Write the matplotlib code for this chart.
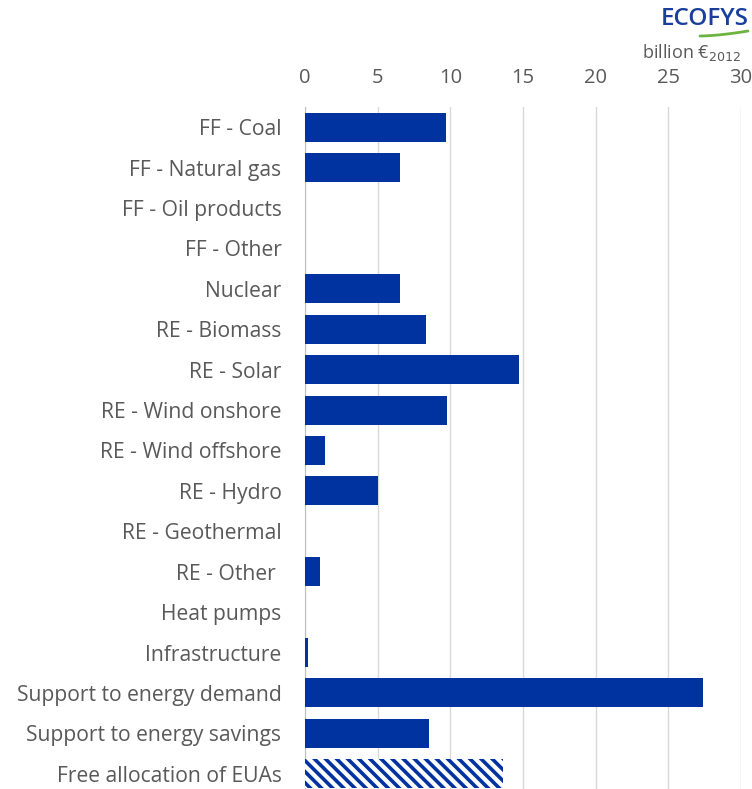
import matplotlib
matplotlib.use("Agg")
import matplotlib.pyplot as plt
import numpy as np

categories = ["FF - Coal", "FF - Natural gas", "FF - Oil products", "FF - Other", "Nuclear",
              "RE - Biomass", "RE - Solar", "RE - Wind onshore", "RE - Wind offshore", "RE - Hydro",
              "RE - Geothermal", "RE - Other ", "Heat pumps", "Infrastructure",
              "Support to energy demand", "Support to energy savings", "Free allocation of EUAs"]
values = [9.7, 6.55, 0, 0, 6.55, 8.3, 14.7, 9.8, 1.4, 5.0, 0, 1.0, 0, 0.2, 27.4, 8.5, 13.65]
hatched = [False]*16 + [True]
xticks = [0, 5, 10, 15, 20, 25, 30]

plt.rcParams['font.family'] = ['Open Sans', 'DejaVu Sans']
plt.rcParams['hatch.linewidth'] = 2.6
plt.rcParams['hatch.color'] = '#0033a0'
blue = '#0033a0'
gray = '#595959'

fig = plt.figure(figsize=(7.52, 7.89), dpi=100)
ax = fig.add_axes([0.4056, -0.0063, 0.5798, 0.8707])
y = np.arange(len(categories))
for i, (v, h) in enumerate(zip(values, hatched)):
    if h:
        ax.barh(i, v, height=0.72, color='white', edgecolor=blue, hatch='\\\\\\', linewidth=0, zorder=3)
    else:
        ax.barh(i, v, height=0.72, color=blue, zorder=3)
ax.set_ylim(len(categories) - 0.5, -0.5)
ax.set_xlim(0, 30)
ax.set_xticks(xticks)
ax.xaxis.tick_top()
ax.tick_params(axis='x', length=0, labelsize=14.5, labelcolor=gray, pad=14)
ax.set_yticks(y)
ax.set_yticklabels(categories)
ax.tick_params(axis='y', length=0, labelsize=15.2, labelcolor=gray, pad=17)
ax.grid(axis='x', color='#d9d9d9', linewidth=1, zorder=0)
for s in ['top', 'right', 'bottom']:
    ax.spines[s].set_visible(False)
ax.spines['left'].set_color('#bfbfbf')

fig.text(0.985, 0.934, r"billion €$_{2012}$", ha='right', va='center', fontsize=13, color=gray)
fig.text(0.996, 0.976, "ECOFYS", ha='right', va='center', fontsize=17.5, color='#1a3f9a', fontweight='semibold')
# green swoosh
xs = np.linspace(700, 748, 40)
t = (xs - 700) / 48
ys = 36 - 5 * t**1.6
fig.add_artist(plt.Line2D(xs / 752, 1 - ys / 789, color='#6cb33f', linewidth=2.0,
                          solid_capstyle='round', transform=fig.transFigure))

fig.savefig("out.png", dpi=100)
